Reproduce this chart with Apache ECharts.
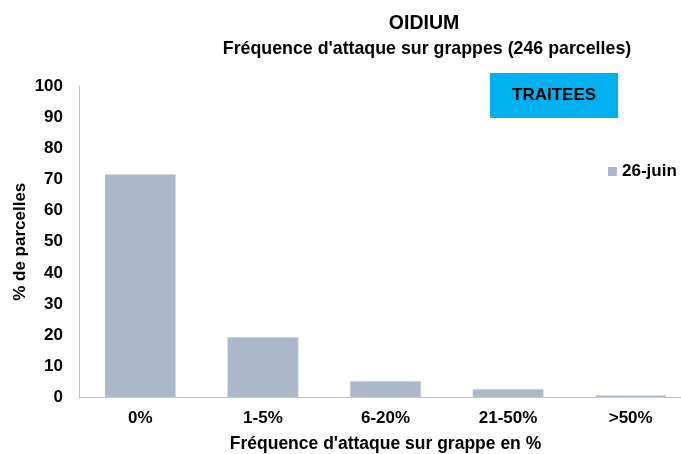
<!DOCTYPE html>
<html><head><meta charset="utf-8">
<script src="https://cdn.jsdelivr.net/npm/echarts@6/dist/echarts.min.js"></script>
<style>html,body{margin:0;padding:0;background:#fff}#c{width:681px;height:454px}</style>
</head><body><div id="c"></div>
<script>
const categories = ['0%', '1-5%', '6-20%', '21-50%', '>50%'];
const seriesName = '26-juin';
const values = [71.7, 19.4, 5.3, 2.7, 0.7];
const yTicks = { min: 0, max: 100, interval: 10 };

const F = 'Liberation Sans, Arial, sans-serif';
const FS = 17;
const chart = echarts.init(document.getElementById('c'));
chart.setOption({
  animation: false,
  title: [
    { text: 'OIDIUM', left: 419, top: 9, textAlign: 'center',
      textStyle: { fontFamily: F, fontSize: 19.5, fontWeight: 'bold', color: '#000' } },
    { text: "Fréquence d'attaque sur grappes (246 parcelles)", left: 422, top: 35, textAlign: 'center',
      textStyle: { fontFamily: F, fontSize: 17.8, fontWeight: 'bold', color: '#000' } },
    { text: 'TRAITEES', left: 490, top: 73, backgroundColor: '#00b0f0',
      padding: [14, 22, 14, 22],
      textStyle: { fontFamily: F, fontSize: FS, fontWeight: 'bold', color: '#000' } }
  ],
  legend: {
    data: [seriesName], left: 608, top: 163, padding: 0, itemWidth: 9, itemHeight: 9,
    icon: 'rect', itemStyle: { borderWidth: 0 },
    textStyle: { fontFamily: F, fontSize: FS, fontWeight: 'bold', color: '#000' }
  },
  grid: { left: 79, top: 86, width: 613, height: 311.5, outerBoundsMode: 'none' },
  xAxis: {
    type: 'category', data: categories,
    name: "Fréquence d'attaque sur grappe en %", nameLocation: 'middle', nameGap: 38,
    nameMoveOverlap: false,
    nameTextStyle: { fontFamily: F, fontSize: 17.5, fontWeight: 'bold', color: '#000' },
    axisLine: { lineStyle: { color: '#bfbfbf', width: 1 } },
    axisTick: { show: false },
    axisLabel: { fontFamily: F, fontSize: FS, fontWeight: 'bold', color: '#000', margin: 12 }
  },
  yAxis: {
    type: 'value', min: yTicks.min, max: yTicks.max, interval: yTicks.interval,
    name: '% de parcelles', nameLocation: 'middle', nameGap: 50, nameMoveOverlap: false,
    nameTextStyle: { fontFamily: F, fontSize: FS, fontWeight: 'bold', color: '#000' },
    axisLine: { show: true, lineStyle: { color: '#bfbfbf', width: 1 } },
    axisTick: { show: false },
    splitLine: { show: false },
    axisLabel: { fontFamily: F, fontSize: FS, fontWeight: 'bold', color: '#000', margin: 16 }
  },
  series: [{
    name: seriesName, type: 'bar', data: values, barWidth: '58%',
    itemStyle: { color: '#adb9ca', borderColor: '#d6dce5', borderWidth: 0.5 }
  }]
});
</script></body></html>
